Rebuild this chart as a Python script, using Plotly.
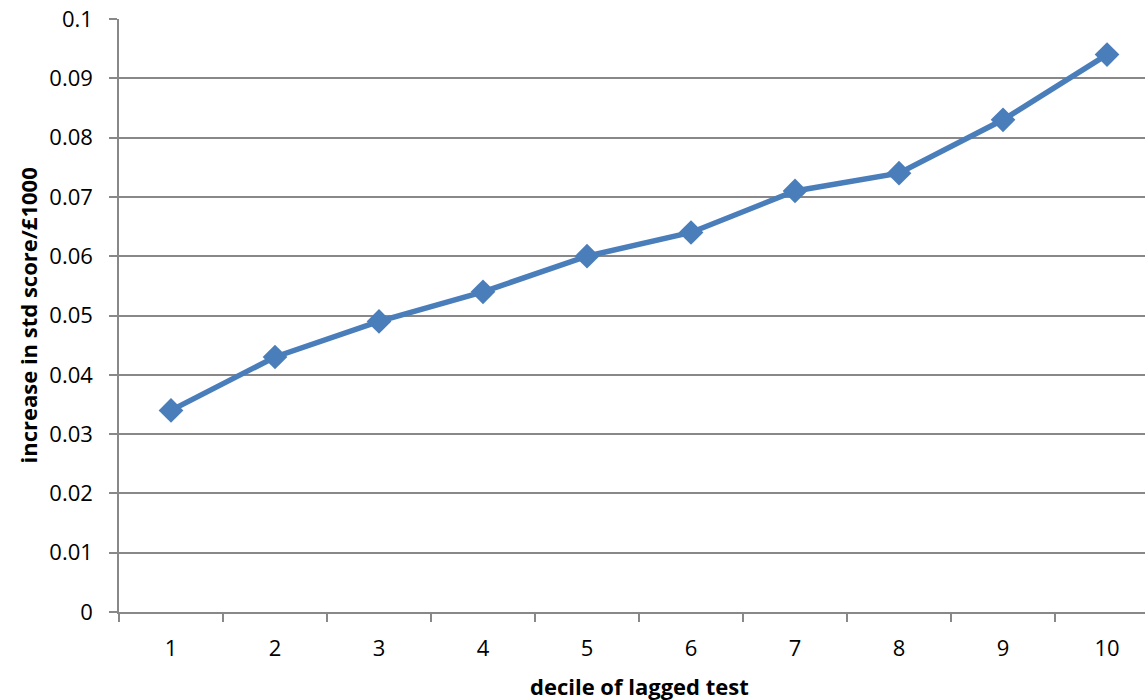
import plotly.graph_objects as go

deciles = ["1", "2", "3", "4", "5", "6", "7", "8", "9", "10"]
increase = [0.034, 0.043, 0.049, 0.054, 0.060, 0.064, 0.071, 0.074, 0.083, 0.094]
y_ticks = [0, 0.01, 0.02, 0.03, 0.04, 0.05, 0.06, 0.07, 0.08, 0.09, 0.1]
y_labels = ["0", "0.01", "0.02", "0.03", "0.04", "0.05", "0.06", "0.07", "0.08", "0.09", "0.1"]

BLUE = "#4A7EBB"
GRID = "#888888"
FONT = "Open Sans, Noto Sans, sans-serif"

fig = go.Figure(go.Scatter(
    x=deciles, y=increase, mode="lines+markers",
    line=dict(color=BLUE, width=5.5),
    marker=dict(symbol="diamond", size=19, color=BLUE),
    cliponaxis=False,
))

fig.update_layout(
    width=1145, height=700,
    margin=dict(l=119, r=0, t=19, b=88, autoexpand=False),
    paper_bgcolor="white", plot_bgcolor="white",
    showlegend=False,
    font=dict(family=FONT, size=22, color="#000000"),
    xaxis=dict(
        type="category", range=[-0.5, 9.365], automargin=False,
        tickson="boundaries", ticks="outside", ticklen=8, tickcolor=GRID, tickwidth=1.5,
        showgrid=False, showline=True, linecolor=GRID, linewidth=1.5,
        tickfont=dict(size=22), ticklabelstandoff=16,
    ),
    yaxis=dict(
        range=[0, 0.1], tickvals=y_ticks, ticktext=y_labels, automargin=False,
        ticks="outside", ticklen=8, tickcolor=GRID, tickwidth=1.5,
        showgrid=True, gridcolor=GRID, gridwidth=1.5,
        showline=True, linecolor=GRID, linewidth=1.5,
        zeroline=False, tickfont=dict(size=22), ticklabelstandoff=12,
    ),
    annotations=[
        dict(text="<b>decile of lagged test</b>", xref="paper", yref="paper",
             x=(639 - 119) / 1026, y=-(686 - 612) / 593, xanchor="center", yanchor="middle",
             showarrow=False, font=dict(size=22, family=FONT)),
        dict(text="<b>increase in std score/£1000</b>", xref="paper", yref="paper",
             x=-(119 - 27) / 1026, y=0.5, xanchor="center", yanchor="middle", textangle=-90,
             showarrow=False, font=dict(size=22, family=FONT)),
    ],
)

fig.write_html("out.html", config={"displayModeBar": False},
               post_script="document.body.style.margin='0';document.body.style.overflow='hidden';")
